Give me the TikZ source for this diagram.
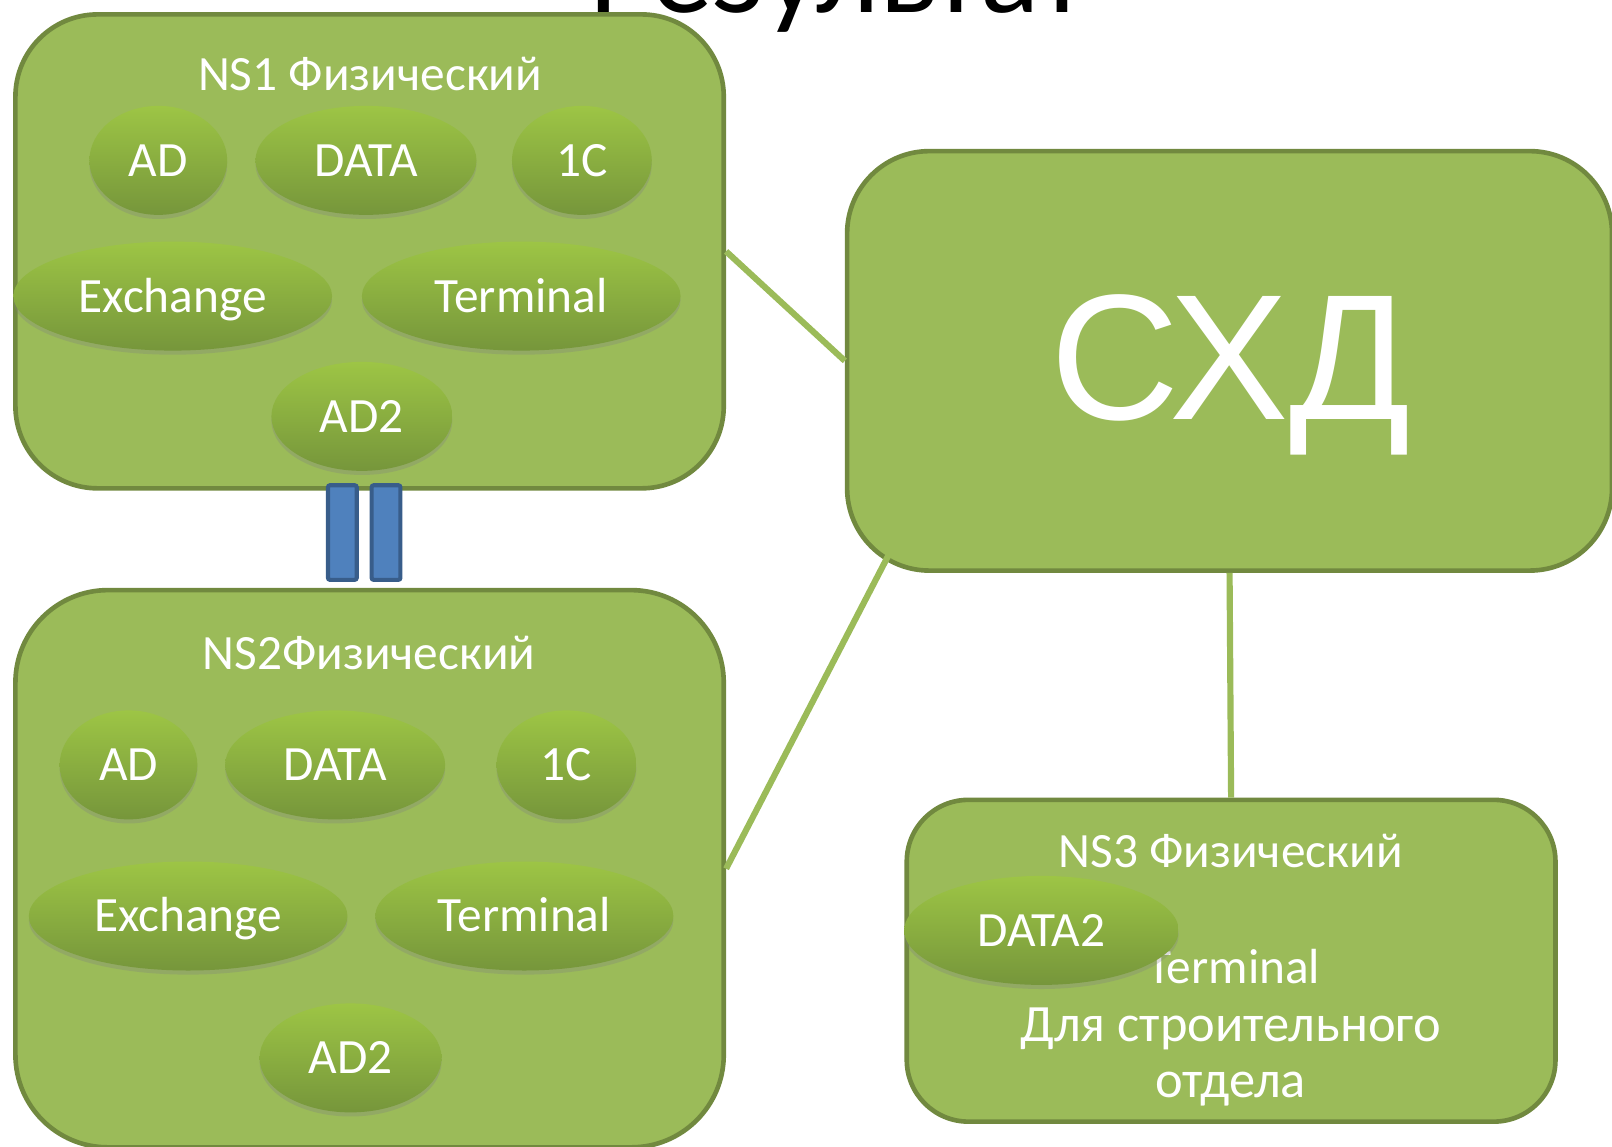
\documentclass[tikz,border=0pt]{standalone}
\usepackage{fontspec}
\setmainfont{Carlito}
\newfontfamily\arialfont{Liberation Sans}
\usetikzlibrary{shapes.geometric,shadows,positioning}
\definecolor{boxgreen}{HTML}{9BBB59}
\definecolor{boxline}{HTML}{71893F}
\definecolor{ovaltop}{HTML}{9DC545}
\definecolor{ovalbottom}{HTML}{76963B}
\definecolor{barblue}{HTML}{4F81BD}
\definecolor{barline}{HTML}{385D8A}
\tikzset{server/.style={rectangle,fill=boxgreen,draw=boxline,line width=2.25pt,
rounded corners=40pt,inner sep=0pt},
service/.style={ellipse,top color=ovaltop,bottom color=ovalbottom,inner sep=0pt,
minimum height=53pt,text=white,text height=15.5pt,text depth=0pt,
font=\fontsize{24}{28}\selectfont,
drop shadow={opacity=.3,shadow xshift=0pt,shadow yshift=-2pt}},
caption/.style={text=white,inner sep=0pt,anchor=base,
font=\fontsize{24}{28}\selectfont},
link/.style={draw=boxgreen,line width=3pt,
drop shadow={opacity=.25,shadow xshift=.7pt,shadow yshift=-.7pt}},
bar/.style={rectangle,fill=barblue,draw=barline,line width=2pt,rounded corners=1pt,
minimum width=14pt,minimum height=46pt,inner sep=0pt}}
\begin{document}
\begin{tikzpicture}[x=0.5pt,y=-0.5pt]
  \useasboundingbox (0,0) rectangle (1568,1115);
  \node (title) [anchor=base,inner sep=0pt,font=\fontsize{60}{60}\selectfont] at (815,12) {Результат};

  \node (ns1) [server,minimum width=344.5pt,minimum height=230.5pt] at (359.5,244.5) {};
  \node (shd) [server,minimum width=372pt,minimum height=204pt] at (1196,351) {};
  \node (ns2) [server,rounded corners=45pt,minimum width=344.5pt,minimum height=271pt] at (359.5,845) {};
  \node (ns3) [server,rounded corners=30pt,minimum width=315.5pt,minimum height=156.5pt] at (1197.5,934.5) {};

  \node (bar1) [bar] at (333,518) {};
  \node (bar2) [bar] at (375.5,518) {};

  % NS1
  \node (ns1cap) [caption] at (360,88) {NS1 Физический};
  \node (ad1) [service,minimum width=67pt] at (154,156) {AD};
  \node (data1) [service,minimum width=107.5pt] at (356,156) {DATA};
  \node (onec1) [service,minimum width=68pt] at (566,156) {1C};
  \node (exch1) [service,minimum width=155pt] at (168,288) {Exchange};
  \node (term1) [service,minimum width=155pt] at (507,288) {Terminal};
  \node (adtwo1) [service,minimum width=88pt] at (352,405) {AD2};

  % NS2
  \node (ns2cap) [caption] at (359,651) {NS2Физический};
  \node (ad2) [service,minimum width=67pt] at (125,744) {AD};
  \node (data2) [service,minimum width=107pt] at (326,744) {DATA};
  \node (onec2) [service,minimum width=68pt] at (551,744) {1C};
  \node (exch2) [service,minimum width=155pt] at (183,891) {Exchange};
  \node (term2) [service,minimum width=145pt] at (510,891) {Terminal};
  \node (adtwo2) [service,minimum width=88.5pt] at (341,1029) {AD2};

  % NS3
  \node (ns3cap) [caption] at (1197,844) {NS3 Физический};
  \node (ns3term) [caption] at (1200,957) {Terminal};
  \node (ns3use) [caption,font=\fontsize{25.5}{28}\selectfont] at (1197,1013) {Для строительного};
  \node (ns3dept) [caption,font=\fontsize{25.5}{28}\selectfont] at (1197,1068) {отдела};
  \node (data3) [service,minimum width=133.5pt] at (1013,905) {DATA2};

  \node (shdcap) [text=white,inner sep=0pt,font=\arialfont\fontsize{87}{87}\selectfont] at (1197,365) {СХД};

  \draw [link] (ns1.east) -- (shd.west);
  \draw [link] ([shift={(46,-24)}]shd.south west) -- (ns2.east);
  \draw [link] (shd.south) -- (ns3.north);
\end{tikzpicture}
\end{document}
